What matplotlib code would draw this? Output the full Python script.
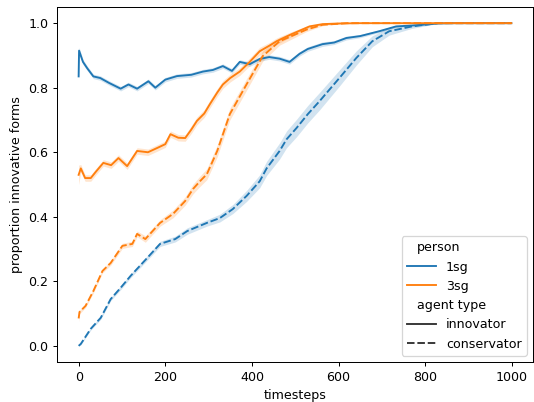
import matplotlib
matplotlib.use("Agg")
import matplotlib.pyplot as plt
import numpy as np
import pandas as pd
import seaborn as sns

# 1sg innovator
t_1sg_inn = [0, 1, 10, 20, 34, 50, 70, 97, 115, 135, 161, 177, 200, 227, 260, 287, 310, 333, 354,
             372, 395, 418, 440, 464, 487, 510, 529, 563, 590, 618, 650, 694, 733, 760, 793, 830, 870, 999]
v_1sg_inn = [0.835, 0.915, 0.88, 0.86, 0.835, 0.83, 0.815, 0.797, 0.81, 0.797, 0.82, 0.80, 0.825, 0.836,
             0.84, 0.85, 0.855, 0.867, 0.852, 0.88, 0.873, 0.889, 0.895, 0.89, 0.88, 0.905, 0.92, 0.935,
             0.94, 0.954, 0.96, 0.975, 0.99, 0.992, 0.995, 0.999, 1.0, 1.0]
ci_1sg_inn = [0.01, 0.01, 0.008, 0.007, 0.007, 0.007, 0.007, 0.007, 0.007, 0.007, 0.007, 0.007, 0.007,
              0.007, 0.007, 0.007, 0.007, 0.007, 0.007, 0.007, 0.007, 0.007, 0.007, 0.007, 0.007, 0.007,
              0.007, 0.007, 0.006, 0.006, 0.005, 0.004, 0.003, 0.002, 0.001, 0.0, 0.0, 0.0]

# 3sg innovator
t_3sg_inn = [0, 5, 15, 28, 40, 57, 75, 92, 112, 135, 160, 181, 200, 212, 230, 246, 260, 273, 290, 303,
             320, 333, 350, 372, 395, 418, 440, 457, 490, 533, 563, 600, 650, 999]
v_3sg_inn = [0.53, 0.55, 0.52, 0.52, 0.54, 0.567, 0.56, 0.582, 0.557, 0.604, 0.60, 0.613, 0.625, 0.656,
             0.645, 0.644, 0.67, 0.697, 0.72, 0.749, 0.785, 0.81, 0.83, 0.85, 0.88, 0.913, 0.93, 0.944,
             0.965, 0.99, 0.997, 0.999, 1.0, 1.0]
ci_3sg_inn = [0.03, 0.012, 0.01, 0.01, 0.01, 0.01, 0.01, 0.01, 0.01, 0.01, 0.01, 0.01, 0.01, 0.01, 0.01,
              0.01, 0.012, 0.012, 0.012, 0.012, 0.012, 0.012, 0.012, 0.012, 0.012, 0.012, 0.01, 0.01,
              0.008, 0.004, 0.002, 0.001, 0.0, 0.0]

# 3sg conservator
t_3sg_con = [0, 2, 16, 34, 55, 74, 101, 124, 135, 154, 188, 218, 246, 264, 280, 296, 320, 349, 388, 425,
             464, 526, 563, 620, 999]
v_3sg_con = [0.085, 0.105, 0.124, 0.17, 0.232, 0.257, 0.31, 0.316, 0.347, 0.331, 0.381, 0.409, 0.449,
             0.486, 0.51, 0.532, 0.604, 0.718, 0.811, 0.898, 0.944, 0.98, 0.995, 1.0, 1.0]
ci_3sg_con = [0.01, 0.006, 0.005, 0.006, 0.006, 0.007, 0.008, 0.008, 0.009, 0.01, 0.01, 0.012, 0.013,
              0.015, 0.016, 0.017, 0.018, 0.018, 0.018, 0.016, 0.012, 0.006, 0.003, 0.0, 0.0]

# 1sg conservator
t_1sg_con = [0, 5, 28, 51, 74, 97, 120, 158, 188, 223, 251, 296, 326, 356, 388, 418, 434, 464, 480, 503,
             529, 556, 602, 641, 678, 717, 770, 830, 999]
v_1sg_con = [0.0, 0.006, 0.053, 0.087, 0.145, 0.18, 0.217, 0.272, 0.316, 0.331, 0.356, 0.381, 0.396,
             0.424, 0.465, 0.51, 0.55, 0.604, 0.64, 0.675, 0.718, 0.758, 0.83, 0.892, 0.944, 0.975, 0.99,
             1.0, 1.0]
ci_1sg_con = [0.0, 0.003, 0.004, 0.005, 0.005, 0.006, 0.006, 0.007, 0.008, 0.009, 0.01, 0.01, 0.012,
              0.014, 0.017, 0.02, 0.022, 0.025, 0.026, 0.027, 0.027, 0.027, 0.025, 0.022, 0.017, 0.012,
              0.006, 0.001, 0.0]

series = [
    ("1sg", "innovator", t_1sg_inn, v_1sg_inn, ci_1sg_inn),
    ("3sg", "innovator", t_3sg_inn, v_3sg_inn, ci_3sg_inn),
    ("1sg", "conservator", t_1sg_con, v_1sg_con, ci_1sg_con),
    ("3sg", "conservator", t_3sg_con, v_3sg_con, ci_3sg_con),
]

rows = []
for person, agent, t, v, ci in series:
    for ti, vi in zip(t, v):
        rows.append({"timesteps": ti, "proportion innovative forms": vi,
                     "person": person, "agent type": agent})
df = pd.DataFrame(rows)

palette = {"1sg": "#1f77b4", "3sg": "#ff7f0e"}

# tight-cropped default figure, scaled down
dpi = 90.5
fig = plt.figure(figsize=(534 / dpi, 402 / dpi), dpi=dpi)
ax = fig.add_axes([0.1067, 0.0995, 0.8914, 0.883])

for person, agent, t, v, ci in series:
    lo = np.array(v) - np.array(ci)
    hi = np.array(v) + np.array(ci)
    ax.fill_between(t, lo, hi, color=palette[person], alpha=0.2, linewidth=0)

sns.lineplot(data=df, x="timesteps", y="proportion innovative forms", hue="person",
             style="agent type", style_order=["innovator", "conservator"],
             hue_order=["1sg", "3sg"], palette=palette, errorbar=None, ax=ax)

ax.set_xticks([0, 200, 400, 600, 800, 1000])
ax.set_yticks([0.0, 0.2, 0.4, 0.6, 0.8, 1.0])
ax.set_xlim(-50, 1049)
ax.set_ylim(-0.05, 1.05)
sns.move_legend(ax, "lower right", handlelength=2.3)

# pull the group titles to the left, as seaborn does
leg = ax.get_legend()
for hpack in leg._legend_handle_box.get_children()[0].get_children():
    draw_area, text_area = hpack.get_children()
    if text_area.get_children()[0].get_text() in ("person", "agent type"):
        draw_area.set_width(0)
        for h in draw_area.get_children():
            h.set_visible(False)

fig.savefig("out.png", dpi=dpi)
